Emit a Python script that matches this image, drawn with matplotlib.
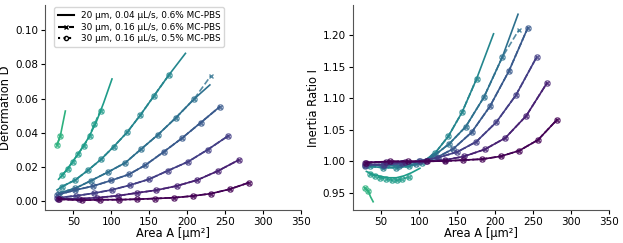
import matplotlib
matplotlib.use("Agg")
import matplotlib.pyplot as plt
import numpy as np

# isoelastic curves, lightest (green) to darkest (purple)
# marker points shared by the two 30 um series
area_mark = [
    [28.5, 32.9],
    [35.1, 42.5, 49.1, 56.2, 64.1, 71.5, 77.7, 86.0],
    [35.1, 52.7, 69.4, 86.6, 103.2, 120.9, 138.5, 156.5, 175.6],
    [30.6, 52.7, 73.4, 95.3, 118.6, 139.7, 161.3, 185.3, 209.3],
    [28.5, 52.0, 76.0, 100.0, 123.0, 145.0, 169.0, 193.0, 218.0, 243.0],
    [28.5, 54.0, 76.8, 101.0, 125.2, 150.3, 175.0, 201.4, 227.3, 254.4],
    [29.3, 57.0, 81.3, 108.5, 134.0, 159.5, 186.4, 213.2, 240.7, 268.0],
    [30.6, 61.5, 85.6, 109.9, 134.0, 158.2, 183.0, 207.5, 231.7, 256.3, 281.3],
]
defo_mark = [
    [0.0328, 0.0381],
    [0.0152, 0.0186, 0.0230, 0.0275, 0.0324, 0.0381, 0.0451, 0.0527],
    [0.0084, 0.0123, 0.0180, 0.0244, 0.0318, 0.0402, 0.0504, 0.0617, 0.0736],
    [0.0045, 0.0074, 0.0119, 0.0168, 0.0224, 0.0305, 0.0387, 0.0488, 0.0598],
    [0.0035, 0.0063, 0.0087, 0.0120, 0.0155, 0.0210, 0.0287, 0.0367, 0.0459, 0.0552],
    [0.0018, 0.0030, 0.0045, 0.0065, 0.0093, 0.0128, 0.0178, 0.0230, 0.0301, 0.0382],
    [0.0013, 0.0012, 0.0019, 0.0030, 0.0047, 0.0063, 0.0088, 0.0122, 0.0176, 0.0240],
    [0.0010, 0.0004, 0.0007, 0.0007, 0.0010, 0.0014, 0.0019, 0.0029, 0.0043, 0.0069, 0.0107],
]
ir_mark = [
    [0.958, 0.953],
    [0.980, 0.977, 0.974, 0.972, 0.970, 0.970, 0.972, 0.975],
    [0.992, 0.990, 0.990, 0.992, 0.998, 1.013, 1.040, 1.078, 1.131],
    [0.995, 0.993, 0.993, 0.996, 1.008, 1.028, 1.055, 1.102, 1.165],
    [0.993, 0.995, 0.997, 1.000, 1.006, 1.020, 1.046, 1.087, 1.143, 1.212],
    [0.995, 0.995, 0.997, 1.000, 1.006, 1.015, 1.031, 1.062, 1.105, 1.165],
    [0.998, 0.999, 0.999, 1.000, 1.002, 1.008, 1.019, 1.037, 1.072, 1.124],
    [0.998, 1.000, 1.000, 1.000, 1.0005, 1.002, 1.0035, 1.008, 1.017, 1.034, 1.066],
]

# 20 um solid lines (None -> same points as markers)
area_solid = [
    [28.5, 32.9, 36.0, 39.5],
    [30.6, 40.0, 50.0, 60.0, 70.0, 80.0, 90.0, 101.0],
    [28.5, 35.1, 52.7, 69.4, 86.6, 103.2, 120.9, 138.5, 156.5, 175.6, 197.8],
    [30.6, 52.7, 73.4, 95.3, 118.6, 139.7, 161.3, 185.3, 209.3, 230.0],
    None, None, None, None,
]
defo_solid = [
    [0.0328, 0.0381, 0.0450, 0.0527],
    [0.0127, 0.0175, 0.0235, 0.0300, 0.0370, 0.0460, 0.0575, 0.0715],
    [0.0064, 0.0084, 0.0123, 0.0180, 0.0244, 0.0318, 0.0402, 0.0504, 0.0617, 0.0736, 0.0865],
    [0.0045, 0.0074, 0.0119, 0.0168, 0.0224, 0.0305, 0.0387, 0.0488, 0.0598, 0.0680],
    None, None, None, None,
]
ir_solid = [
    [0.958, 0.953, 0.944, 0.936],
    [0.984, 0.979, 0.976, 0.974, 0.974, 0.977, 0.982, 0.989],
    [0.993, 0.992, 0.990, 0.990, 0.992, 0.998, 1.013, 1.040, 1.078, 1.131, 1.202],
    [0.995, 0.993, 0.993, 0.996, 1.008, 1.028, 1.055, 1.102, 1.165, 1.233],
    None, None, None, None,
]

# extra end point of the dashed series (curve 4 only)
dash_extra = {3: (231.0, 0.0732, 1.208)}

legend_labels = ["20 µm, 0.04 µL/s, 0.6% MC-PBS",
                 "30 µm, 0.16 µL/s, 0.6% MC-PBS",
                 "30 µm, 0.16 µL/s, 0.5% MC-PBS"]

colors = plt.cm.viridis(np.linspace(0.64, 0.0, len(area_mark)))

fig = plt.figure(figsize=(6.23, 2.43), dpi=100)
ax1 = fig.add_axes([0.072, 0.136, 0.411, 0.843])
ax2 = fig.add_axes([0.566, 0.136, 0.412, 0.843])


def draw(ax, marks, solids, col):
    for i, c in enumerate(colors):
        xs = area_solid[i] if area_solid[i] is not None else area_mark[i]
        ys = solids[i] if solids[i] is not None else marks[i]
        ax.plot(xs, ys, "-", color=c, lw=1.2)
        xd = list(area_mark[i])
        yd = list(marks[i])
        if i in dash_extra:
            xd.append(dash_extra[i][0])
            yd.append(dash_extra[i][col])
        ax.plot(xd, yd, "--", color=c, lw=1.2, marker="x", ms=3, alpha=0.8)
        ax.plot(area_mark[i], marks[i], ":", color=c, lw=1.2, marker="o",
                ms=3.8, mfc="none", alpha=0.7)


draw(ax1, defo_mark, defo_solid, 1)
draw(ax2, ir_mark, ir_solid, 2)

for ax in (ax1, ax2):
    ax.spines["top"].set_visible(False)
    ax.spines["right"].set_visible(False)
    for s in ("left", "bottom"):
        ax.spines[s].set_color("#555555")
    ax.tick_params(labelsize=7.5, length=3, pad=2)
    ax.set_xlim(12.5, 350)
    ax.set_xticks([50, 100, 150, 200, 250, 300, 350])
    ax.set_xlabel("Area A [µm²]", fontsize=8.3, labelpad=0)

ax1.set_ylim(-0.0053, 0.1148)
ax1.set_yticks([0.0, 0.02, 0.04, 0.06, 0.08, 0.10])
ax1.set_ylabel("Deformation D", fontsize=8.3, labelpad=2)
ax2.set_ylim(0.923, 1.2475)
ax2.set_yticks([0.95, 1.0, 1.05, 1.10, 1.15, 1.20])
ax2.set_ylabel("Inertia Ratio I", fontsize=8.3, labelpad=2)

h1, = ax1.plot([], [], "-", color="k")
h2, = ax1.plot([], [], "--", color="k", marker="x", ms=3)
h3, = ax1.plot([], [], ":", color="k", marker="o", ms=3, mfc="none")
ax1.legend([h1, h2, h3], legend_labels, loc="upper left", fontsize=6.4,
           handlelength=1.8, borderpad=0.4, labelspacing=0.3,
           bbox_to_anchor=(0.02, 1.01))

fig.savefig("out.png", dpi=100)
